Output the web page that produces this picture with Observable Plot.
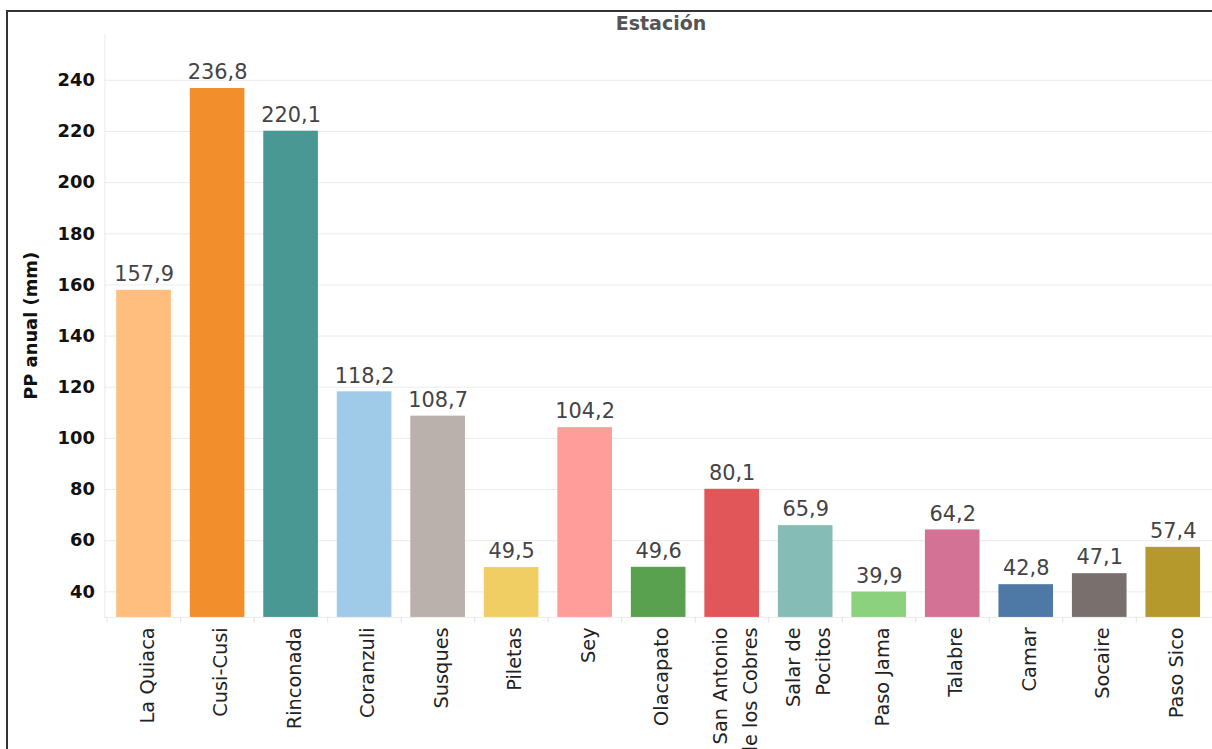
<!DOCTYPE html>
<html>
<head>
<meta charset="utf-8">
<script src="https://cdn.jsdelivr.net/npm/d3@7"></script>
<script src="https://cdn.jsdelivr.net/npm/@observablehq/plot@0.6"></script>
<style>
  html, body { margin: 0; padding: 0; background: #fff; overflow: hidden; width: 1212px; height: 749px; }
  #frame { position: absolute; left: 6px; top: 10px; width: 1300px; height: 800px;
           border-left: 2px solid #333; border-top: 2px solid #333; }
  #header { position: absolute; top: 12px; left: 561px; width: 200px; text-align: center;
            font-family: "DejaVu Sans", sans-serif; font-size: 19px; font-weight: bold; color: #555; }
  #chart { position: absolute; left: 0; top: 0; }
</style>
</head>
<body>
<div id="frame"></div>
<div id="header">Estación</div>
<div id="chart"></div>
<script>
const stations = ["La Quiaca", "Cusi-Cusi", "Rinconada", "Coranzuli", "Susques", "Piletas", "Sey", "Olacapato",
  "San Antonio\nde los Cobres", "Salar de\nPocitos", "Paso Jama", "Talabre", "Camar", "Socaire", "Paso Sico"];
const ppAnual = [157.9, 236.8, 220.1, 118.2, 108.7, 49.5, 104.2, 49.6, 80.1, 65.9, 39.9, 64.2, 42.8, 47.1, 57.4];
const barColors = ["#FFBE7D", "#F28E2B", "#499894", "#A0CBE8", "#BAB0AC", "#F1CE63", "#FF9D9A", "#59A14F",
  "#E15759", "#86BCB6", "#8CD17D", "#D37295", "#4E79A7", "#79706E", "#B6992D"];
const yTicks = [40, 60, 80, 100, 120, 140, 160, 180, 200, 220, 240];

const data = stations.map((s, i) => ({station: s, pp: ppAnual[i]}));
const fmt = v => v.toFixed(1).replace(".", ",");

const W = 1220, ML = 105;
const step = (W - ML) / stations.length;

const chart = Plot.plot({
  width: W, height: 749,
  marginLeft: ML, marginRight: 0, marginTop: 34, marginBottom: 128,
  style: {fontFamily: "'DejaVu Sans', sans-serif", background: "transparent", overflow: "visible"},
  x: {domain: stations, paddingInner: 0.255, paddingOuter: 0.1275, label: null},
  y: {domain: [30, 258], clamp: true, label: "PP anual (mm)"},
  color: {domain: stations, range: barColors},
  marks: [
    Plot.gridY(yTicks, {stroke: "#ebebeb", strokeOpacity: 1}),
    Plot.frame({anchor: "left", stroke: "#ebebeb"}),
    Plot.ruleY([30], {stroke: "#ebebeb"}),
    Plot.ruleX(stations, {x: d => d, y1: 30, y2: 30, insetBottom: -6, dx: -step / 2, stroke: "#e3e3e3"}),
    Plot.barY(data, {x: "station", y: "pp", fill: "station"}),
    Plot.text(data, {x: "station", y: "pp", text: d => fmt(d.pp), dy: -16, fontSize: 21, fill: "#444"}),
    Plot.axisY(yTicks, {tickSize: 0, tickPadding: 10, fontSize: 18, fontWeight: "bold", fill: "#111",
      label: "PP anual (mm)", labelAnchor: "center", labelArrow: "none", labelOffset: 81}),
    Plot.axisX({tickRotate: -90, tickSize: 0, tickPadding: 10, fontSize: 19.5, fill: "#222", label: null, lineHeight: 1.54})
  ]
});
document.getElementById("chart").appendChild(chart);
</script>
</body>
</html>
